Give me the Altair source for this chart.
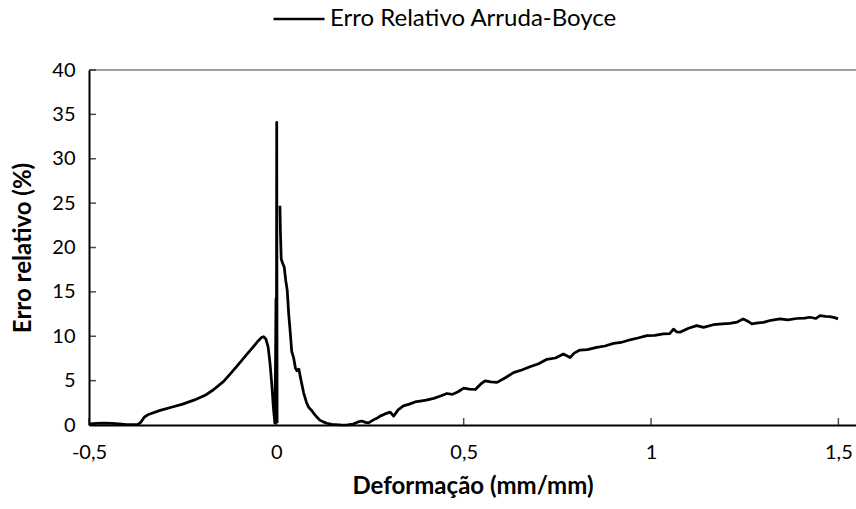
import altair as alt
import pandas as pd

# Segment A: left hump and the spike at zero
seg_a_x = [-0.497, -0.48, -0.46, -0.44, -0.42, -0.40, -0.38, -0.37, -0.362, -0.352,
           -0.343, -0.33, -0.31, -0.28, -0.25, -0.22, -0.19, -0.167, -0.14, -0.12,
           -0.10, -0.08, -0.06, -0.048, -0.04, -0.034, -0.028, -0.022, -0.017, -0.012,
           -0.008, -0.004, -0.002, -0.001, 0.0, 0.001, 0.002]
seg_a_y = [0.12, 0.18, 0.2, 0.17, 0.12, 0.05, 0.03, 0.05, 0.3, 0.9,
           1.15, 1.35, 1.65, 2.0, 2.35, 2.8, 3.35, 4.0, 4.95, 5.9,
           6.9, 7.9, 8.9, 9.5, 9.85, 9.95, 9.7, 8.8, 7.0, 4.5,
           2.0, 0.2, 8.0, 14.2, 0.5, 34.1, 0.2]

# Segment B: decay after the spike and the tension branch
seg_b_x = [0.0095, 0.011, 0.013, 0.017, 0.021, 0.025, 0.029, 0.033, 0.037, 0.041,
           0.046, 0.051, 0.055, 0.06, 0.066, 0.073, 0.08, 0.086, 0.093, 0.1,
           0.108, 0.116, 0.125, 0.135, 0.148, 0.162, 0.175, 0.19, 0.205, 0.218,
           0.228, 0.238, 0.246, 0.258, 0.268, 0.277, 0.29, 0.304, 0.313, 0.325,
           0.339, 0.355, 0.37, 0.384, 0.40, 0.42, 0.44, 0.455, 0.47, 0.485,
           0.5, 0.515, 0.531, 0.545, 0.557, 0.572, 0.589, 0.61, 0.633, 0.655,
           0.677, 0.70, 0.722, 0.745, 0.766, 0.784, 0.795, 0.81, 0.83, 0.855,
           0.877, 0.9, 0.92, 0.944, 0.965, 0.989, 1.01, 1.033, 1.05, 1.06,
           1.068, 1.077, 1.1, 1.122, 1.14, 1.166, 1.19, 1.21, 1.23, 1.246,
           1.258, 1.269, 1.285, 1.3, 1.32, 1.344, 1.365, 1.389, 1.41, 1.424,
           1.44, 1.451, 1.465, 1.477, 1.49, 1.499]
seg_b_y = [24.7, 21.6, 18.7, 18.2, 17.8, 16.3, 15.2, 12.5, 10.5, 8.3,
           7.6, 6.4, 6.1, 6.3, 5.0, 3.6, 2.6, 2.0, 1.7, 1.3,
           0.9, 0.55, 0.35, 0.2, 0.08, 0.03, 0.0, 0.02, 0.1, 0.35,
           0.45, 0.3, 0.23, 0.55, 0.75, 1.0, 1.25, 1.45, 1.0, 1.7,
           2.15, 2.35, 2.6, 2.7, 2.8, 3.0, 3.3, 3.55, 3.45, 3.75,
           4.15, 4.05, 4.0, 4.6, 4.98, 4.85, 4.8, 5.3, 5.9, 6.2,
           6.56, 6.9, 7.4, 7.55, 8.0, 7.6, 8.1, 8.45, 8.5, 8.75,
           8.9, 9.2, 9.3, 9.6, 9.8, 10.07, 10.1, 10.26, 10.3, 10.8,
           10.5, 10.45, 10.9, 11.2, 11.0, 11.3, 11.4, 11.46, 11.6, 11.96,
           11.7, 11.4, 11.5, 11.57, 11.8, 11.96, 11.85, 12.0, 12.05, 12.14,
           12.0, 12.33, 12.25, 12.2, 12.1, 11.96]

series_name = "Erro Relativo Arruda-Boyce"
x_ticks = [-0.5, 0, 0.5, 1, 1.5]
y_ticks = [0, 5, 10, 15, 20, 25, 30, 35, 40]

FONT = "Lato"

rows = []
for i, (xv, yv) in enumerate(zip(seg_a_x, seg_a_y)):
    rows.append({"x": xv, "y": yv, "seg": "a", "ord": i, "serie": series_name})
for i, (xv, yv) in enumerate(zip(seg_b_x, seg_b_y)):
    rows.append({"x": xv, "y": yv, "seg": "b", "ord": 1000 + i, "serie": series_name})
df = pd.DataFrame(rows)

xscale = alt.Scale(domain=[-0.5, 1.547], nice=False, zero=False)
yscale = alt.Scale(domain=[0, 40], nice=False)

x_axis = alt.Axis(values=x_ticks, title="Deformação (mm/mm)", grid=False, ticks=False,
                  domainColor="black", domainWidth=2, labelFont=FONT, labelFontSize=20,
                  labelColor="#000000", labelPadding=17, labelFlush=False,
                  labelExpr="replace(toString(datum.value), '.', ',')",
                  titleFont=FONT, titleFontSize=24, titleFontWeight="bold",
                  titleColor="#000000", titlePadding=12)
y_axis = alt.Axis(values=y_ticks, title="Erro relativo (%)", grid=False, ticks=False,
                  domainColor="black", domainWidth=2, labelFont=FONT, labelFontSize=20,
                  labelColor="#000000", labelPadding=14, labelFlush=False,
                  titleFont=FONT, titleFontSize=24, titleFontWeight="bold",
                  titleColor="#000000", titlePadding=16)

line = alt.Chart(df).mark_line(strokeWidth=2.75, strokeJoin="round").encode(
    x=alt.X("x:Q", scale=xscale, axis=x_axis),
    y=alt.Y("y:Q", scale=yscale, axis=y_axis),
    detail="seg:N",
    order="ord:Q",
    color=alt.Color("serie:N", scale=alt.Scale(range=["#000000"]),
                    legend=alt.Legend(title=None, orient="none", legendX=183, legendY=-78,
                                      symbolType="stroke", symbolSize=2600,
                                      symbolStrokeWidth=2.5, labelFont=FONT,
                                      labelFontSize=24, labelColor="#000000",
                                      labelOffset=4, labelLimit=0)),
)

top_line = alt.Chart(pd.DataFrame({"v": [40]})).mark_rule(color="#808080", strokeWidth=1.5).encode(
    y=alt.Y("v:Q", scale=yscale)
)

xt = alt.Chart(pd.DataFrame({"t": x_ticks, "z": [0] * len(x_ticks)})).mark_tick(
    orient="vertical", size=7, yOffset=-3.5, thickness=1.5, color="black"
).encode(x=alt.X("t:Q", scale=xscale), y=alt.Y("z:Q", scale=yscale))

yt = alt.Chart(pd.DataFrame({"t": y_ticks, "z": [-0.5] * len(y_ticks)})).mark_tick(
    orient="horizontal", size=7, xOffset=3.5, thickness=1.5, color="black"
).encode(y=alt.Y("t:Q", scale=yscale), x=alt.X("z:Q", scale=xscale))

chart = alt.layer(top_line, line, xt, yt).properties(
    width=767, height=355, autosize="none",
    padding={"left": 89, "top": 70, "right": 0, "bottom": 84},
    background="white",
).configure_view(stroke=None)

chart.save("out.html", embed_options={"renderer": "svg", "actions": False})
